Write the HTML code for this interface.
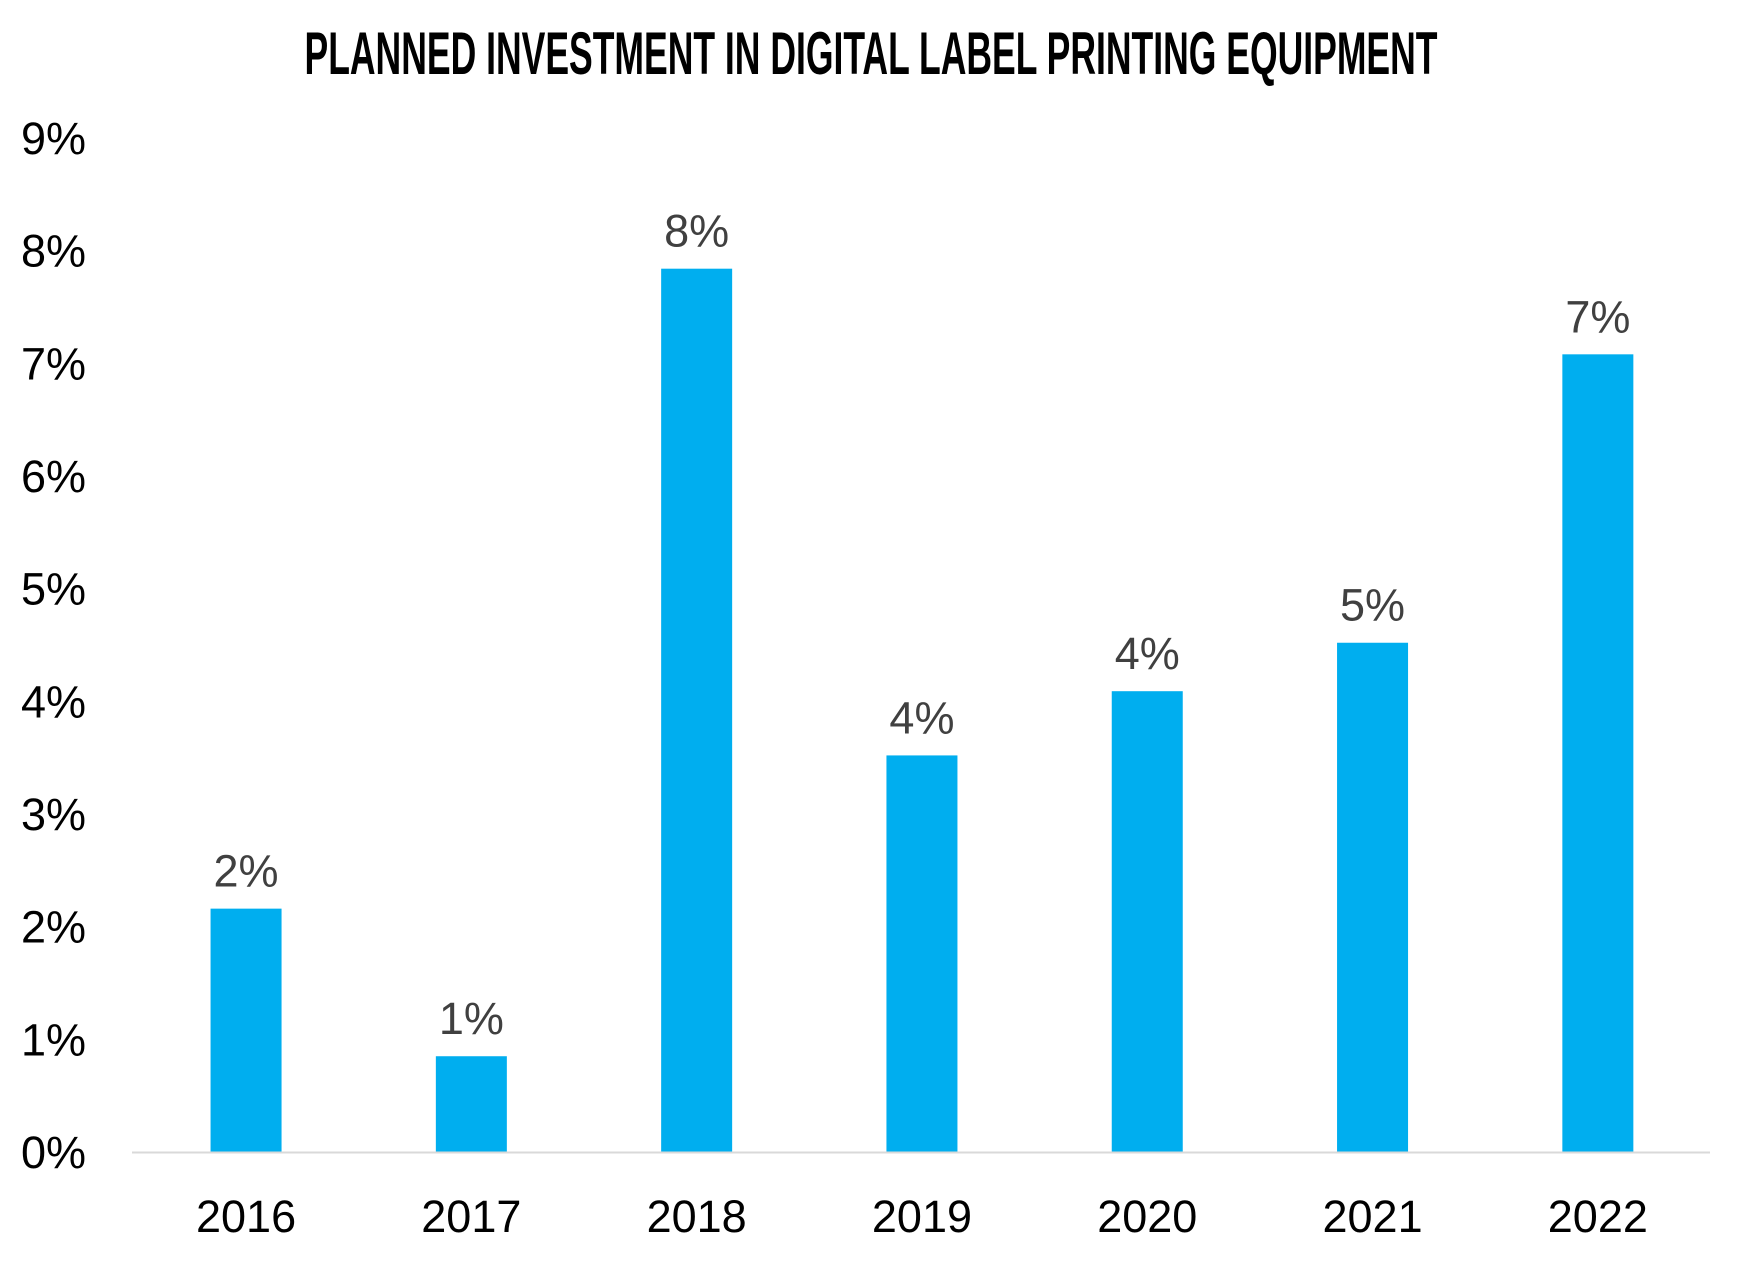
<!DOCTYPE html>
<html><head><meta charset="utf-8"><style>
html,body{margin:0;padding:0;background:#fff;}
svg{display:block;}
text{font-family:"Liberation Sans",sans-serif;}
</style></head><body>
<svg id="chart" width="1742" height="1265">
<text x="871" y="74" text-anchor="middle" font-size="60" font-weight="bold" textLength="1133" lengthAdjust="spacingAndGlyphs" style="font-family:'Liberation Sans Narrow','Liberation Sans',sans-serif" fill="#000">PLANNED INVESTMENT IN DIGITAL LABEL PRINTING EQUIPMENT</text>
<g id="yaxis"></g><g id="bars"></g><g id="xaxis"></g>
</svg>
<script>
const categories=["2016","2017","2018","2019","2020","2021","2022"];
const values=[2.16,0.85,7.84,3.52,4.09,4.52,7.08];
const valueLabels=["2%","1%","8%","4%","4%","5%","7%"];
const yTicks=[0,1,2,3,4,5,6,7,8,9];
const yTickLabels=["0%","1%","2%","3%","4%","5%","6%","7%","8%","9%"];
const NS="http://www.w3.org/2000/svg";
const plotL=133.4,plotR=1710.5,y0=1152,yTop=138,yMax=9;
function y(v){return y0-(v/yMax)*(y0-yTop);}
const band=(plotR-plotL)/categories.length;
function xc(i){return plotL+band*(i+0.5);}
function mk(tag,attrs,parent){const e=document.createElementNS(NS,tag);for(const k in attrs)e.setAttribute(k,attrs[k]);parent.appendChild(e);return e;}
const ya=document.getElementById('yaxis'),bg=document.getElementById('bars'),xa=document.getElementById('xaxis');
yTicks.forEach((t,i)=>{
  const el=mk('text',{x:86,y:y(t)+16,'text-anchor':'end','font-size':45,fill:'#000'},ya);
  el.textContent=yTickLabels[i];
  
  
});
const ax=mk('line',{x1:132,x2:1710,y1:y0+0.5,y2:y0+0.5,stroke:'#d9d9d9','stroke-width':2},xa);


const bw=71;
values.forEach((v,i)=>{
  const r=mk('rect',{x:xc(i)-bw/2,y:y(v),width:bw,height:y0-y(v),fill:'#00AEEF'},bg);
  
  
  const l=mk('text',{x:xc(i),y:y(v)-22,'text-anchor':'middle','font-size':45,fill:'#404040'},bg);
  l.textContent=valueLabels[i];
  
  
  const c=mk('text',{x:xc(i),y:1232,'text-anchor':'middle','font-size':45,fill:'#000'},xa);
  c.textContent=categories[i];
  
  
});
</script>
</body></html>
